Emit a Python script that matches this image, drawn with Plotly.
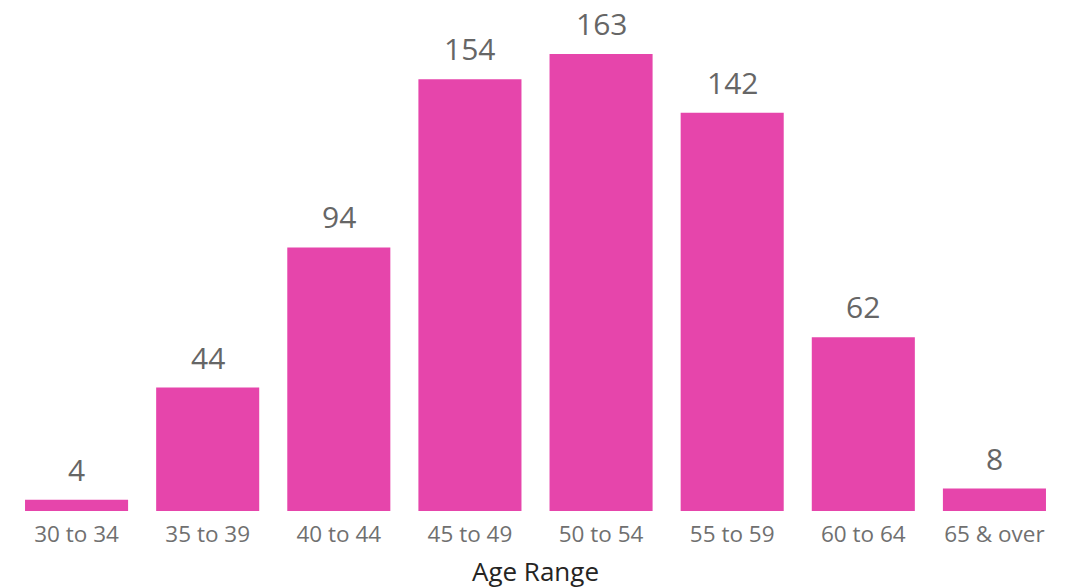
import plotly.graph_objects as go

categories = ["30 to 34", "35 to 39", "40 to 44", "45 to 49", "50 to 54", "55 to 59", "60 to 64", "65 & over"]
counts = [4, 44, 94, 154, 163, 142, 62, 8]
x_title = "Age Range"

fig = go.Figure(go.Bar(x=categories, y=counts, marker_color="#E645AB", marker_line_width=0))

for c, v in zip(categories, counts):
    fig.add_annotation(x=c, y=v, text=str(v), showarrow=False, yanchor="bottom", yshift=9,
                       borderpad=0,
                       font=dict(family="Open Sans", size=30, color="#666666"))

fig.update_layout(
    width=1080, height=588,
    margin=dict(l=3, r=28, t=12, b=85),
    plot_bgcolor="white", paper_bgcolor="white",
    bargap=0.214,
    showlegend=False,
    font=dict(family="Open Sans"),
)
fig.update_xaxes(
    showgrid=False, showline=False, zeroline=False, ticks="",
    ticklabelstandoff=7,
    tickfont=dict(family="Open Sans", size=22.5, color="#707070"),
    title=dict(text=x_title, font=dict(family="Open Sans", size=26, color="#252423"), standoff=15),
)
fig.update_yaxes(visible=False, range=[0, 175.1])

fig.write_html("out.html", config={"displayModeBar": False})
